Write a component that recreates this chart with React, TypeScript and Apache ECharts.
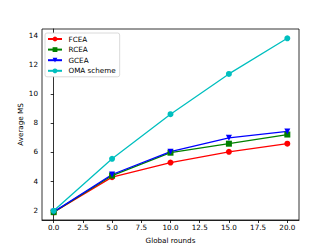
import React, { useEffect, useRef } from "react";
import * as echarts from "echarts";

const rounds = [0, 5, 10, 15, 20];
const fcea = [1.85, 4.27, 5.27, 6.01, 6.57];
const rcea = [1.86, 4.38, 5.95, 6.57, 7.2];
const gcea = [1.88, 4.45, 6.02, 6.97, 7.41];
const oma = [1.95, 5.53, 8.6, 11.37, 13.82];
const xTicks = [0, 2.5, 5, 7.5, 10, 12.5, 15, 17.5, 20];
const yTicks = [2, 4, 6, 8, 10, 12, 14];
const seriesNames = ["FCEA", "RCEA", "GCEA", "OMA scheme"];

const FONT = "DejaVu Sans";

export default function App() {
  const ref = useRef<HTMLDivElement>(null);
  useEffect(() => {
    if (!ref.current) return;
    const chart = echarts.init(ref.current, undefined, { renderer: "svg" });
    const mk = (name: string, data: number[], color: string, symbol: string, rotate = 0) => ({
      name,
      type: "line",
      data: rounds.map((r, i) => [r, data[i]]),
      symbol,
      symbolRotate: rotate,
      symbolSize: 6,
      showSymbol: true,
      lineStyle: { color, width: 1.3 },
      itemStyle: { color, borderWidth: 0 },
      emphasis: { disabled: true },
    });
    chart.setOption({
      animation: false,
      backgroundColor: "#fff",
      grid: {
        left: 42,
        right: 33,
        top: 29,
        bottom: 28,
        show: true,
        borderColor: "#000",
        borderWidth: 0.8,
        backgroundColor: "transparent",
      },
      legend: {
        orient: "vertical",
        left: 45,
        top: 33,
        data: seriesNames,
        itemWidth: 14,
        itemHeight: 6,
        itemGap: 2.6,
        padding: [2, 4, 2, 2],
        backgroundColor: "#fff",
        borderColor: "#d0d0d0",
        borderWidth: 0.8,
        borderRadius: 2,
        symbolRotate: "inherit",
        textStyle: {
          fontFamily: FONT,
          fontSize: 7.2,
          lineHeight: 8,
          color: "#000",
          padding: [0, 0, 0, 1.5],
        },
        selectedMode: false,
      },
      xAxis: {
        type: "value",
        min: -1,
        max: 21,
        name: "Global rounds",
        nameLocation: "middle",
        nameGap: 17,
        nameMoveOverlap: false,
        nameTextStyle: { fontFamily: FONT, fontSize: 7.2, color: "#000" },
        splitLine: { show: false },
        axisLine: { show: true, lineStyle: { color: "#000", width: 0.8 } },
        axisTick: { show: true, length: 3, lineStyle: { color: "#000", width: 0.8 }, customValues: xTicks },
        axisLabel: {
          fontFamily: FONT,
          fontSize: 7.2,
          color: "#000",
          margin: 4,
          customValues: xTicks,
          formatter: (v: number) => v.toFixed(1),
        },
      },
      yAxis: {
        type: "value",
        min: 1.32,
        max: 14.46,
        name: "Average MS",
        nameLocation: "middle",
        nameGap: 18,
        nameMoveOverlap: false,
        nameTextStyle: { fontFamily: FONT, fontSize: 7.2, color: "#000" },
        splitLine: { show: false },
        axisLine: { show: true, lineStyle: { color: "#000", width: 0.8 } },
        axisTick: { show: true, length: 3, lineStyle: { color: "#000", width: 0.8 }, customValues: yTicks },
        axisLabel: {
          fontFamily: FONT,
          fontSize: 7.2,
          color: "#000",
          margin: 4,
          customValues: yTicks,
          formatter: (v: number) => String(Math.round(v)),
        },
      },
      series: [
        mk("FCEA", fcea, "#ff0000", "circle"),
        mk("RCEA", rcea, "#008000", "rect"),
        mk("GCEA", gcea, "#0000ff", "triangle", 180),
        mk("OMA scheme", oma, "#00bfbf", "circle"),
      ],
    });
    return () => chart.dispose();
  }, []);
  return (
    <div
      ref={ref}
      style={{ position: "fixed", left: 0, top: 0, width: 332, height: 249 }}
    />
  );
}
